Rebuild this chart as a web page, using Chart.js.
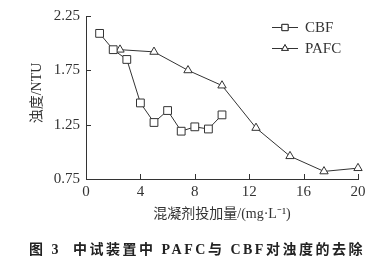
<!DOCTYPE html>
<html>
<head>
<meta charset="utf-8">
<script src="https://cdn.jsdelivr.net/npm/chart.js@4/dist/chart.umd.min.js"></script>
<style>
  html, body { margin: 0; padding: 0; background: #fff; }
  #wrap { width: 387px; height: 268px; }
</style>
</head>
<body>
<div id="wrap"><canvas id="mycanvas" width="387" height="268"></canvas></div>
<script>
// dose (mg/L) and turbidity (NTU)
var cbfDose = [1, 2, 3, 4, 5, 6, 7, 8, 9, 10];
var cbfNTU = [2.09, 1.94, 1.85, 1.45, 1.27, 1.38, 1.19, 1.23, 1.21, 1.34];
var pafcDose = [2.5, 5, 7.5, 10, 12.5, 15, 17.5, 20];
var pafcNTU = [1.94, 1.92, 1.75, 1.61, 1.22, 0.96, 0.82, 0.85];
var xTicks = [0, 4, 8, 12, 16, 20];
var yTicks = [0.75, 1.25, 1.75, 2.25];

var serif = '"Liberation Serif", "DejaVu Serif", serif';
var cjk = '"Liberation Serif", "Noto Sans CJK SC", serif';
var ink = '#333';

function pts(xs, ys) {
  var out = [];
  for (var i in xs) out.push({x: xs[i], y: ys[i]});
  return out;
}

// inward ticks, legend, axis titles and caption
var decor = {
  id: 'decor',
  afterDraw: function(chart) {
    var ctx = chart.ctx;
    var xs = chart.scales.x, ys = chart.scales.y;
    var a = chart.chartArea;
    ctx.save();
    ctx.strokeStyle = ink;
    ctx.lineWidth = 1;
    ctx.beginPath();
    for (var i in xTicks) {
      var px = Math.round(xs.getPixelForValue(xTicks[i])) + 0.5;
      ctx.moveTo(px, a.bottom);
      ctx.lineTo(px, a.bottom - 5);
    }
    for (var j in yTicks) {
      var py = Math.round(ys.getPixelForValue(yTicks[j])) + 0.5;
      ctx.moveTo(a.left, py);
      ctx.lineTo(a.left + 5, py);
    }
    ctx.stroke();

    // legend
    var items = chart.data.datasets;
    for (var k = 0; k < items.length; k++) {
      var ly = 27 + k * 21;
      var ds = items[k];
      ctx.strokeStyle = ink;
      ctx.beginPath();
      ctx.moveTo(272, ly + 0.5);
      ctx.lineTo(298, ly + 0.5);
      ctx.stroke();
      Chart.helpers.drawPoint(ctx, {
        pointStyle: ds.pointStyle, radius: ds.pointRadius * 0.8,
        borderWidth: 1
      }, 285, ly + 0.5);
      ctx.fillStyle = '#fff';
      ctx.fill();
      ctx.stroke();
      ctx.fillStyle = ink;
      ctx.font = '15px ' + serif;
      ctx.textAlign = 'left';
      ctx.textBaseline = 'middle';
      ctx.fillText(ds.label, 305, ly + 1);
    }

    // axis titles
    ctx.fillStyle = ink;
    ctx.font = '14px ' + cjk;
    ctx.textAlign = 'center';
    ctx.textBaseline = 'middle';
    ctx.fillText('混凝剂投加量/(mg·L\u207B\u00B9)', 222, 214);
    ctx.save();
    ctx.translate(37, 93);
    ctx.rotate(-Math.PI / 2);
    ctx.fillText('浊度/NTU', 0, 0);
    ctx.restore();

    // caption
    ctx.fillStyle = '#222';
    ctx.font = '600 14px ' + cjk;
    ctx.letterSpacing = '2.5px';
    ctx.fillText('图 3  中试装置中 PAFC与 CBF对浊度的去除', 197, 250);
    ctx.restore();
  }
};

var chartdata = {
  datasets: [
    {
      label: 'CBF',
      data: pts(cbfDose, cbfNTU),
      pointStyle: 'rect',
      pointRadius: 5.5
    },
    {
      label: 'PAFC',
      data: pts(pafcDose, pafcNTU),
      pointStyle: 'triangle',
      pointRadius: 4.8
    }
  ]
};
chartdata.datasets.forEach(function(d) {
  d.showLine = true;
  d.clip = false;
  d.borderColor = ink;
  d.borderWidth = 1;
  d.backgroundColor = '#fff';
  d.pointBackgroundColor = '#fff';
  d.pointBorderColor = ink;
  d.pointBorderWidth = 1;
  d.tension = 0;
});

var ctx = document.getElementById('mycanvas');
new Chart(ctx, {
  type: 'scatter',
  data: chartdata,
  plugins: [decor],
  options: {
    responsive: false,
    animation: false,
    layout: { padding: { top: 16, right: 29, left: 0, bottom: 0 } },
    plugins: { legend: { display: false }, tooltip: { enabled: false } },
    scales: {
      x: {
        type: 'linear', min: 0, max: 20,
        afterBuildTicks: function(s) { s.ticks = xTicks.map(function(v) { return {value: v}; }); },
        afterFit: function(s) { s.height = 268 - 179; },
        grid: { display: false, drawTicks: false },
        border: { display: true, color: ink, width: 1 },
        ticks: { color: ink, padding: 4, font: { family: serif, size: 15 }, maxRotation: 0 }
      },
      y: {
        type: 'linear', min: 0.75, max: 2.25,
        afterBuildTicks: function(s) { s.ticks = yTicks.map(function(v) { return {value: v}; }); },
        afterFit: function(s) { s.width = 86; },
        grid: { display: false, drawTicks: false },
        border: { display: true, color: ink, width: 1 },
        ticks: { color: ink, padding: 6, font: { family: serif, size: 15 },
          callback: function(v) { return v.toFixed(2); } }
      }
    }
  }
});
</script>
</body>
</html>
